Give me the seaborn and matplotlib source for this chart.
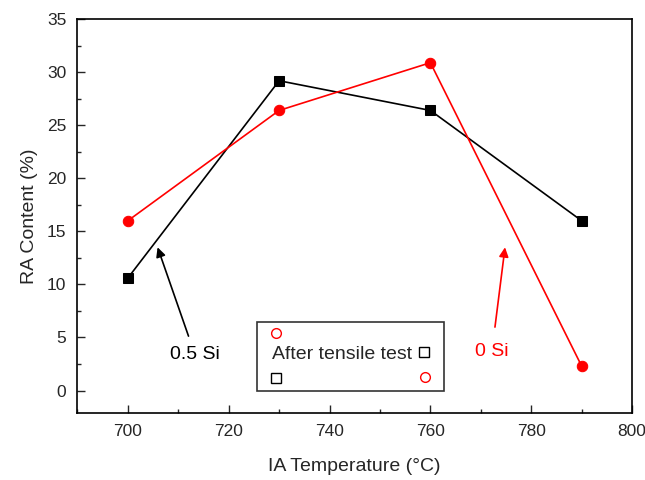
import matplotlib
matplotlib.use("Agg")
import matplotlib.pyplot as plt
import seaborn as sns
import pandas as pd
from matplotlib.patches import Rectangle
from matplotlib.ticker import MultipleLocator

temps = [700, 730, 760, 790]
ra_05si = [10.6, 29.2, 26.4, 16.0]
ra_0si = [16.0, 26.4, 30.9, 2.3]

df = pd.DataFrame({
    'temp': temps * 2,
    'ra': ra_05si + ra_0si,
    'alloy': ['0.5 Si'] * 4 + ['0 Si'] * 4,
})

sns.set_theme(style="ticks")
plt.rcParams['font.family'] = ['Liberation Sans', 'DejaVu Sans']

fig = plt.figure(figsize=(6.45, 4.8), dpi=100)
ax = fig.add_axes([0.120, 0.140, 0.860, 0.820])

sns.lineplot(data=df[df['alloy'] == '0.5 Si'], x='temp', y='ra', color='black',
             marker='s', markersize=7, markeredgecolor='black', lw=1.2, ax=ax)
sns.lineplot(data=df[df['alloy'] == '0 Si'], x='temp', y='ra', color='red',
             marker='o', markersize=7.5, markeredgecolor='red', lw=1.2, ax=ax)

ax.set_xlim(690, 800)
ax.set_ylim(-2.1, 35)
ax.xaxis.set_major_locator(MultipleLocator(20))
ax.xaxis.set_minor_locator(MultipleLocator(10))
ax.yaxis.set_major_locator(MultipleLocator(5))
ax.yaxis.set_minor_locator(MultipleLocator(2.5))
ax.tick_params(which='both', direction='in', top=False, right=False, labelsize=12.5, width=1)
ax.tick_params(which='major', length=6, pad=8)
ax.tick_params(which='minor', length=3)
for s in ax.spines.values():
    s.set_visible(True)
    s.set_linewidth(1.2)
    s.set_color('black')
ax.set_xlabel('IA Temperature (°C)', fontsize=14, labelpad=14)
ax.set_ylabel('RA Content (%)', fontsize=14, labelpad=6)

ax.annotate('0.5 Si', xy=(705.9, 13.5), xytext=(713.3, 3.4), fontsize=14,
            ha='center', va='center', color='black',
            arrowprops=dict(arrowstyle='-|>', color='black', lw=1.2, shrinkA=5, shrinkB=0))
ax.annotate('0 Si', xy=(774.8, 13.5), xytext=(772.2, 3.7), fontsize=14,
            ha='center', va='center', color='red',
            arrowprops=dict(arrowstyle='-|>', color='red', lw=1.2, shrinkA=9, shrinkB=0))

# odd legend box
ax.add_patch(Rectangle((0.324, 0.056), 0.337, 0.175, transform=ax.transAxes,
                       fill=False, edgecolor='#333333', lw=1.2))
ax.text(0.351, 0.147, 'After tensile test', transform=ax.transAxes, fontsize=14,
        ha='left', va='center')
ax.plot([0.358, 0.627], [0.203, 0.091], 'o', transform=ax.transAxes, mfc='none',
        mec='red', ms=7)
ax.plot([0.625, 0.358], [0.155, 0.089], 's', transform=ax.transAxes, mfc='none',
        mec='black', ms=6.5)

fig.savefig('out.png', dpi=100)
